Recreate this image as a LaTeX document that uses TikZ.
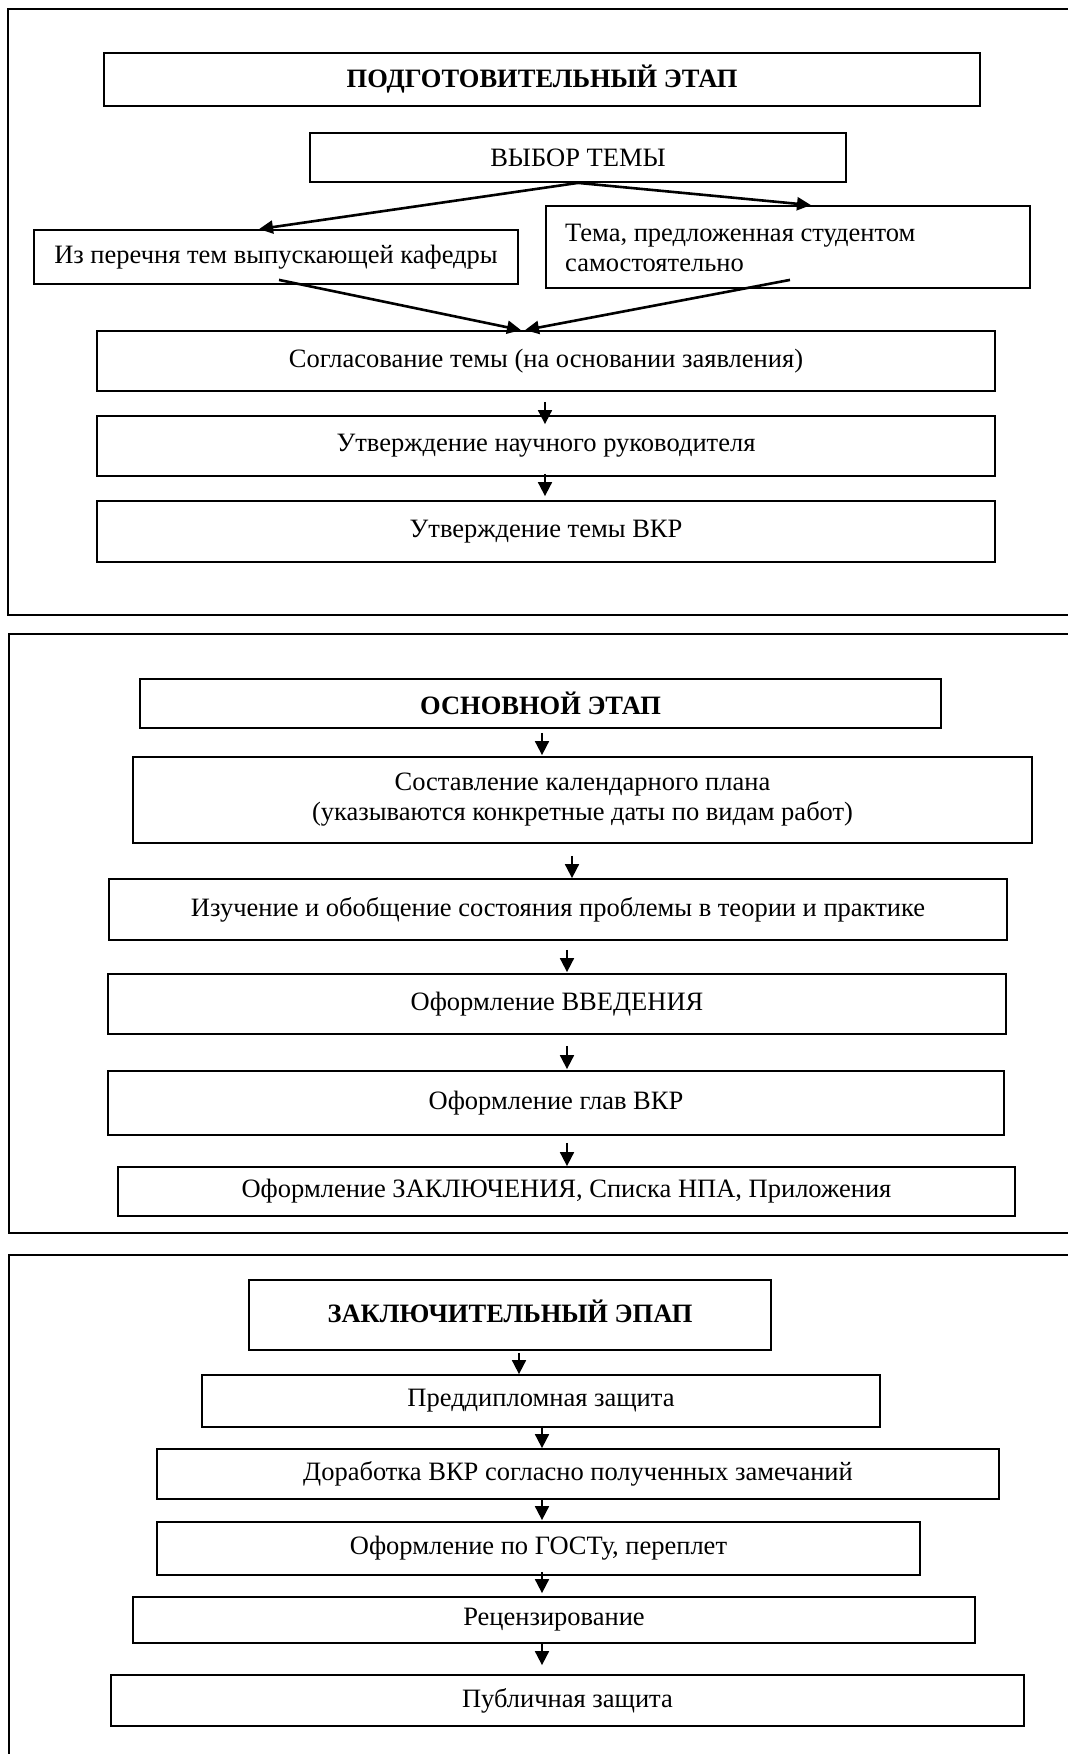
\documentclass[tikz,border=0pt]{standalone}
\usepackage{fontspec}
\setmainfont{Liberation Serif}
\usetikzlibrary{arrows.meta,calc}
\begin{document}
\begin{tikzpicture}[x=1pt,y=-1pt,
  every node/.style={font=\fontsize{26.5}{30}\selectfont},
  box/.style={draw,line width=1.8pt,inner sep=0pt,align=center},
  frame/.style={draw,line width=1.8pt},
  arr/.style={line width=1.8pt,-{Triangle[length=14pt,width=14pt]}},
  darr/.style={line width=2.6pt,-{Triangle[length=14pt,width=13pt]}}]
\useasboundingbox (0,0) rectangle (1068,1754);
\begin{scope}
\clip (0,0) rectangle (1068,1754);
% frames
\draw[frame] (8,9) rectangle (1080,615);
\draw[frame] (9,634) rectangle (1080,1233);
\draw[frame] (9,1255) rectangle (1080,1770);
% stage 1
\node[box,minimum width=876pt,minimum height=53pt,font=\fontsize{26.5}{30}\selectfont\bfseries] (t1) at (542,79.5) {ПОДГОТОВИТЕЛЬНЫЙ ЭТАП};
\node[box,minimum width=536pt,minimum height=49pt] (choice) at (578,157.5) {ВЫБОР ТЕМЫ};
\node[box,minimum width=484pt,minimum height=54pt] (left) at (276,257) {Из перечня тем выпускающей кафедры};
\node[box,minimum width=484pt,minimum height=82pt] (right) at (788,247) {};
\node[align=left,anchor=west,inner sep=0pt] (righttext) at (565,248) {Тема, предложенная студентом\\самостоятельно};
\node[box,minimum width=898pt,minimum height=60pt] (agree) at (546,361) {Согласование темы (на основании заявления)};
\node[box,minimum width=898pt,minimum height=60pt] (sup) at (546,446) {Утверждение научного руководителя};
\node[box,minimum width=898pt,minimum height=61pt] (topic) at (546,531.5) {Утверждение темы ВКР};
\draw[darr] (choice.south) -- ($(left.north)+(-17,0)$);
\draw[darr] (choice.south) -- ($(right.north)+(23,0)$);
\draw[darr] ($(left.south)+(3,-5)$) -- ($(agree.north)+(-25,0)$);
\draw[darr] ($(right.south)+(2,-9)$) -- ($(agree.north)+(-21,0)$);
\draw[arr] ($(agree.south)+(-1,10)$) -- ($(sup.north)+(-1,9)$);
\draw[arr] ($(sup.south)+(-1,-3)$) -- ($(topic.north)+(-1,-4)$);
% stage 2
\node[box,minimum width=801pt,minimum height=49pt,font=\fontsize{26.5}{30}\selectfont\bfseries] (t2) at (540.5,703.5) {ОСНОВНОЙ ЭТАП};
\node[box,minimum width=899pt,minimum height=86pt] (plan) at (582.5,800) {Составление календарного плана\\(указываются конкретные даты по видам работ)};
\node[box,minimum width=898pt,minimum height=61pt] (study) at (558,909.5) {Изучение и обобщение состояния проблемы в теории и практике};
\node[box,minimum width=898pt,minimum height=60pt] (intro) at (557,1004) {Оформление ВВЕДЕНИЯ};
\node[box,minimum width=896pt,minimum height=64pt] (chap) at (556,1103) {Оформление глав ВКР};
\node[box,minimum width=897pt,minimum height=49pt] (concl) at (566.5,1191.5) {Оформление ЗАКЛЮЧЕНИЯ, Списка НПА, Приложения};
\draw[arr] ($(t2.south)+(1.5,4)$) -- ($(plan.north)+(-40.5,-1)$);
\draw[arr] ($(plan.south)+(-10.5,12)$) -- ($(study.north)+(14,0)$);
\draw[arr] ($(study.south)+(9,9)$) -- ($(intro.north)+(10,-1)$);
\draw[arr] ($(intro.south)+(10,11)$) -- ($(chap.north)+(11,-1)$);
\draw[arr] ($(chap.south)+(11,7)$) -- ($(concl.north)+(0.5,0)$);
% stage 3
\node[box,minimum width=522pt,minimum height=70pt,font=\fontsize{26.5}{30}\selectfont\bfseries] (t3) at (510,1315) {\raisebox{8pt}{ЗАКЛЮЧИТЕЛЬНЫЙ ЭПАП}};
\node[box,minimum width=678pt,minimum height=52pt] (pre) at (541,1401) {Преддипломная защита};
\node[box,minimum width=842pt,minimum height=50pt] (rev) at (578,1474) {Доработка ВКР согласно полученных замечаний};
\node[box,minimum width=763pt,minimum height=53pt] (gost) at (538.5,1548.5) {Оформление по ГОСТу, переплет};
\node[box,minimum width=842pt,minimum height=46pt] (review) at (554,1620) {Рецензирование};
\node[box,minimum width=913pt,minimum height=51pt] (pub) at (567.5,1700.5) {Публичная защита};
\draw[arr] ($(t3.south)+(9,2)$) -- ($(pre.north)+(-22,0)$);
\draw[arr] ($(pre.south)+(1,-2)$) -- ($(rev.north)+(-36,0)$);
\draw[arr] ($(rev.south)+(-36,0)$) -- ($(gost.north)+(3.5,-1)$);
\draw[arr] ($(gost.south)+(3.5,-4)$) -- ($(review.north)+(-12,-3)$);
\draw[arr] ($(review.south)+(-12,-1)$) -- ($(pub.north)+(-25.5,-9)$);
\end{scope}
\end{tikzpicture}
\end{document}
